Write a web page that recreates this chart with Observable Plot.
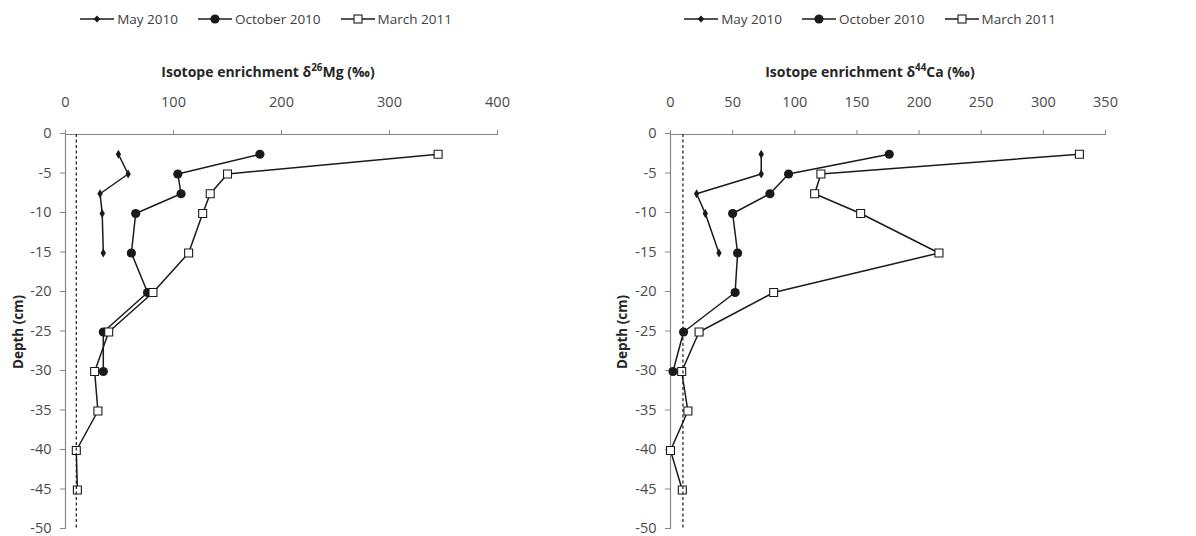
<!DOCTYPE html>
<html>
<head>
<meta charset="utf-8">
<script src="https://cdn.jsdelivr.net/npm/d3@7"></script>
<script src="https://cdn.jsdelivr.net/npm/@observablehq/plot@0.6"></script>
<style>
  html, body { margin: 0; padding: 0; background: #fff; }
  #root { position: relative; width: 1196px; height: 536px; font-family: "Open Sans", sans-serif; }
  .legend { position: absolute; top: 10px; width: 460px; display: flex; justify-content: center; align-items: center; font-size: 13.5px; color: #404040; gap: 20px; white-space: nowrap; }
  .legend .item { display: inline-flex; align-items: center; }
  .legend svg { margin-right: 3px; }
  .title { position: absolute; top: 62px; width: 400px; text-align: center; font-weight: bold; font-size: 14px; color: #262626; white-space: nowrap; }
  .title sup { font-size: 0.7em; line-height: 0; }
  .ylabel { position: absolute; font-weight: bold; font-size: 13.5px; color: #262626; white-space: nowrap; transform: translate(-50%, -50%) rotate(-90deg); }
  .panel { position: absolute; top: 84px; }
  .panel svg { overflow: visible; }
  g[aria-label="x-axis tick"], g[aria-label="y-axis tick"] { stroke: #868686; }
  g[aria-label="x-axis tick label"], g[aria-label="y-axis tick label"] { fill: #4a4a4a; }
</style>
</head>
<body>
<div id="root"></div>
<script>
// ---- data ----
const seriesNames = ["May 2010", "October 2010", "March 2011"];
const depthMay = [-2.5, -5, -7.5, -10, -15];
const depthOct = [-2.5, -5, -7.5, -10, -15, -20, -25, -30];
const depthMar = [-2.5, -5, -7.5, -10, -15, -20, -25, -30, -35, -40, -45];

const mgMay = [49, 58, 32, 34, 35];
const mgOct = [180, 104, 107, 65, 61, 76, 35, 35];
const mgMar = [345, 150, 134, 127, 114, 81, 40, 27, 30, 10, 11];

const caMay = [73, 73, 21, 28, 39];
const caOct = [176, 95, 80, 50, 54, 52, 10.5, 2];
const caMar = [329, 121, 116, 153, 216, 83, 23, 9, 14, 0, 9.5];

const referenceValue = [10];
const depthRange = [0, -50];

const mgTicks = [0, 100, 200, 300, 400];
const caTicks = [0, 50, 100, 150, 200, 250, 300, 350];
const depthTicks = [0, -5, -10, -15, -20, -25, -30, -35, -40, -45, -50];

// ---- helpers ----
function rows(values, depths, series) {
  return values.map((v, i) => ({ value: v, depth: depths[i], series }));
}

const root = document.getElementById("root");

function legend(left) {
  const div = document.createElement("div");
  div.className = "legend";
  div.style.left = left + "px";
  const symbols = [
    `<path d="M17,2.6 L20.4,6 L17,9.4 L13.6,6 Z" fill="#1a1a1a"/>`,
    `<circle cx="17" cy="6" r="4.6" fill="#1a1a1a"/>`,
    `<rect x="13" y="2" width="8" height="8" fill="#fff" stroke="#1a1a1a" stroke-width="1.1"/>`
  ];
  seriesNames.forEach((name, i) => {
    const it = document.createElement("span");
    it.className = "item";
    it.innerHTML = `<svg width="34" height="12"><line x1="0" x2="34" y1="6" y2="6" stroke="#1a1a1a" stroke-width="1.3"/>${symbols[i]}</svg>${name}`;
    div.appendChild(it);
  });
  root.appendChild(div);
}

function title(left, html) {
  const div = document.createElement("div");
  div.className = "title";
  div.style.left = left + "px";
  div.innerHTML = html;
  root.appendChild(div);
}

function ylabel(cx, cy, text) {
  const div = document.createElement("div");
  div.className = "ylabel";
  div.style.left = cx + "px";
  div.style.top = cy + "px";
  div.textContent = text;
  root.appendChild(div);
}

function chart({ left, width, marginLeft, marginRight, domain, ticks, may, oct, mar }) {
  const data = [
    ...rows(may, depthMay, seriesNames[0]),
    ...rows(oct, depthOct, seriesNames[1]),
    ...rows(mar, depthMar, seriesNames[2])
  ];
  const plot = Plot.plot({
    width,
    height: 462,
    marginTop: 50,
    marginBottom: 17,
    marginLeft,
    marginRight,
    style: { fontFamily: "Open Sans, sans-serif", fontSize: "14.5px", background: "transparent" },
    x: { domain, ticks, axis: null },
    y: { domain: [-50, 0], ticks: depthTicks, axis: null },
    marks: [
      Plot.axisX({ anchor: "top", ticks, tickSize: 5, tickPadding: 23, label: null, tickFormat: d => String(d) }),
      Plot.axisY({ anchor: "left", ticks: depthTicks, tickSize: 5, tickPadding: 9, dy: -1, label: null, tickFormat: d => String(d) }),
      Plot.ruleY([0], { stroke: "#868686", strokeWidth: 1.2 }),
      Plot.ruleX([0], { stroke: "#868686", strokeWidth: 1.2 }),
      Plot.line(data.filter(d => d.series === seriesNames[0]), { x: "value", y: "depth", stroke: "#1a1a1a", strokeWidth: 1.5 }),
      Plot.dot(data.filter(d => d.series === seriesNames[0]), { x: "value", y: "depth", symbol: "diamond", r: 2.8, fill: "#1a1a1a" }),
      Plot.line(data.filter(d => d.series === seriesNames[1]), { x: "value", y: "depth", stroke: "#1a1a1a", strokeWidth: 1.5 }),
      Plot.dot(data.filter(d => d.series === seriesNames[1]), { x: "value", y: "depth", symbol: "circle", r: 4.6, fill: "#1a1a1a" }),
      Plot.line(data.filter(d => d.series === seriesNames[2]), { x: "value", y: "depth", stroke: "#1a1a1a", strokeWidth: 1.5 }),
      Plot.dot(data.filter(d => d.series === seriesNames[2]), { x: "value", y: "depth", symbol: "square", r: 4.5, fill: "#fff", stroke: "#1a1a1a", strokeWidth: 1.1 }),
      Plot.ruleX(referenceValue, { y1: depthRange[0], y2: depthRange[1], stroke: "#1a1a1a", strokeWidth: 1.2, strokeDasharray: "3,2.5" })
    ]
  });
  const wrap = document.createElement("div");
  wrap.className = "panel";
  wrap.style.left = left + "px";
  wrap.appendChild(plot);
  root.appendChild(wrap);
}

legend(36);
title(68, "Isotope enrichment δ<sup>26</sup>Mg (‰)");
ylabel(18, 332, "Depth (cm)");
chart({ left: 0, width: 598, marginLeft: 65, marginRight: 101, domain: [0, 400], ticks: mgTicks, may: mgMay, oct: mgOct, mar: mgMar });

legend(640);
title(670, "Isotope enrichment δ<sup>44</sup>Ca (‰)");
ylabel(622, 332, "Depth (cm)");
chart({ left: 598, width: 598, marginLeft: 72, marginRight: 91, domain: [0, 350], ticks: caTicks, may: caMay, oct: caOct, mar: caMar });
</script>
</body>
</html>
